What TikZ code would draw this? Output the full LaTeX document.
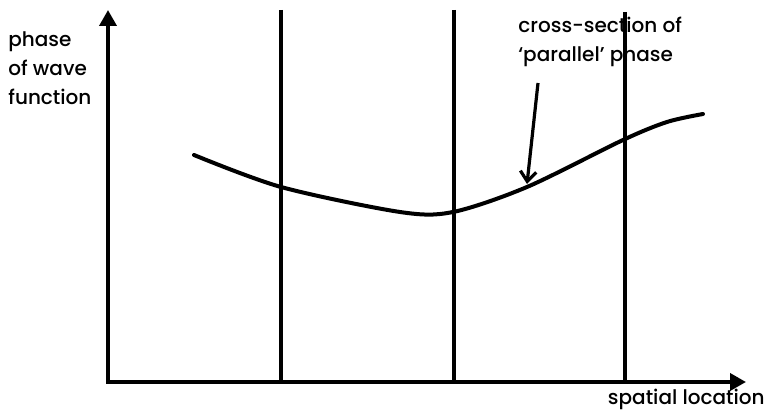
\documentclass[tikz,border=0pt]{standalone}
\usepackage{fontspec}
\setmainfont{Poppins}[UprightFont=* Medium]
\usetikzlibrary{arrows.meta}

\begin{document}
\begin{tikzpicture}[
  x=0.5pt,y=-0.5pt,
  every node/.style={font=\fontsize{10}{14.5}\selectfont,inner sep=0pt},
  axis/.style={line width=1.8pt,{Triangle[length=8pt,width=8.5pt]}-{Triangle[length=8pt,width=8.5pt]}},
  wall/.style={line width=1.8pt},
  wave/.style={line width=2pt},
  pointer/.style={line width=1.6pt,-{Straight Barb[length=5pt,width=8pt]}},
  lbl/.style={align=left}
]
  \useasboundingbox (0,0) rectangle (766,416);

  % axes
  \coordinate (origin) at (108,382);
  \coordinate (ytip)   at (108,10);
  \coordinate (xtip)   at (746,382);
  \draw[axis] (ytip) -- (origin) -- (xtip);

  % boundaries between regions
  \foreach \n/\x/\y in {1/281/10,2/454/10,3/625/12} {
    \coordinate (top\n) at (\x,\y);
    \coordinate (bot\n) at (\x,382);
  }
  \draw[wall] (top1) -- (bot1);
  \draw[wall] (top2) -- (bot2);
  \draw[wall] (top3) -- (bot3);

  % phase curve
  \draw[wave,line cap=round] plot[smooth] coordinates
    {(194,155) (281,187) (400,212) (453,212) (527,187) (623,140) (667,122) (703,114)};

  % labels
  \node[lbl,anchor=north west] (ylabel) at (8,31) {phase\\of wave\\function};
  \node[lbl,anchor=north west] (cslabel) at (518,17) {cross-section of\\`parallel' phase};
  \node[anchor=base east] (xlabel) at (765,405) {spatial location};

  \coordinate (cstail) at (538,83);
  \coordinate (cshead) at (527,184);
  \draw[pointer] (cstail) -- (cshead);
\end{tikzpicture}
\end{document}
